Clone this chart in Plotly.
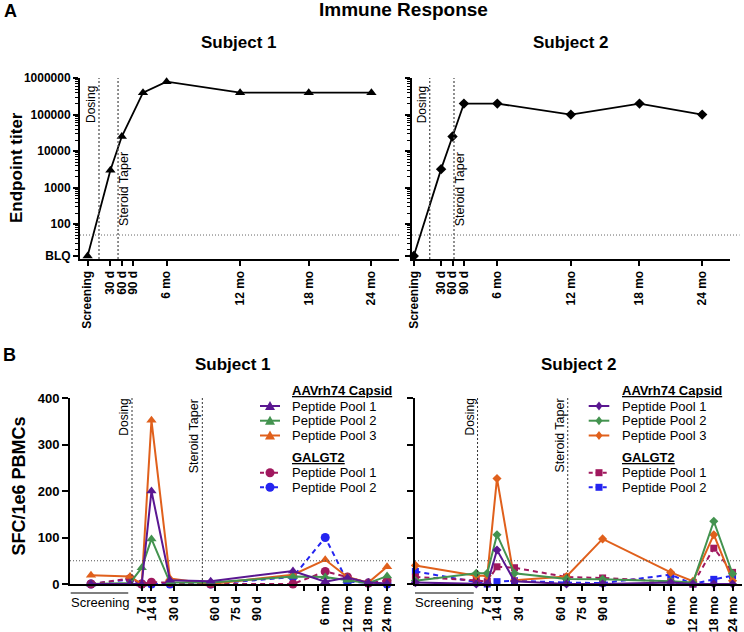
import math
import plotly.graph_objects as go

W, H = 744, 632
FONT = "Liberation Sans, Arial, Helvetica, sans-serif"

# ---------------- Panel A: endpoint titer ----------------
BLQ = 13.3
a_tick_labels = ["Screening", "30 d", "60 d", "90 d", "6 mo", "12 mo", "18 mo", "24 mo"]
a_tick_pos_s1 = [-1.0, 1, 2, 3, 5.93, 12.38, 18.4, 23.9]
a_tick_pos_s2 = [-1.4, 1, 2, 3, 5.93, 12.38, 18.4, 23.9]
a_s1_time = [-1.0, 1, 2, 3.86, 5.93, 12.38, 18.4, 23.9]
a_s1_titer = [BLQ, 3000, 25000, 400000, 800000, 400000, 400000, 400000]
a_s2_time = [-1.4, 1, 2, 3, 5.93, 12.38, 18.4, 23.9]
a_s2_titer = [BLQ, 3200, 25000, 200000, 200000, 100000, 200000, 100000]
a_y_ticks = [BLQ, 100, 1000, 10000, 100000, 1000000]
a_y_labels = ["BLQ", "100", "1000", "10000", "100000", "1000000"]
a_dosing = [0.0, 0.0]
a_taper = [1.67, 2.13]
a_cutoff = 50

# ---------------- Panel B: SFC / 1e6 PBMCs ----------------
b_tick_labels = ["7 d", "14 d", "30 d", "60 d", "75 d", "90 d", "", "", "6 mo", "12 mo", "18 mo", "24 mo"]
b_tick_pos = [7, 14, 30, 60, 75, 90, 124, 134, 139, 155, 170, 183.5]
b_y_ticks = [0, 100, 200, 300, 400]
b_dosing = [0.0, 0.0]
b_taper = [50.6, 64.9]
b_cutoff = 50
b_screen_span_s1 = [-44.1, -2.7]
b_screen_span_s2 = [-45.0, -2.7]

s1_time = [-29.5, -1.4, 7, 14, 27.3, 56.6, 115.8, 139, 155, 170, 183.5]
s1_cap1 = [0, 1, 0, 200, 8, 6, 28, 5, 14, 3, 1]
s1_cap2 = [0, 2, 35, 97, 3, 3, 16, 15, 8, 2, 17]
s1_cap3 = [19, 16, 0, 352, 12, 0, 20, 52, 15, 3, 37]
s1_gal1 = [0, 12, 0, 4, 3, 0, 0, 27, 15, 2, 7]
s1_gal2 = [0, 10, 0, 0, 0, 0, 15, 100, 5, 2, 0]

s2_time = [-44.7, -0.9, 7, 14, 26.6, 64, 90, 139, 155, 170, 183.5]
s2_cap1 = [3, 0, 0, 73, 6, 0, 0, 3, 0, 0, 0]
s2_cap2 = [7, 23, 23, 106, 23, 11, 10, 6, 3, 135, 22]
s2_cap3 = [40, 18, 18, 227, 8, 16, 97, 25, 6, 106, 7]
s2_gal1 = [15, 8, 5, 37, 35, 15, 13, 5, 0, 77, 25]
s2_gal2 = [27, 3, 0, 5, 7, 3, 2, 20, 0, 10, 18]

series_names = ["Peptide Pool 1", "Peptide Pool 2", "Peptide Pool 3", "Peptide Pool 1", "Peptide Pool 2"]
series_colors = ["#5a1791", "#43934f", "#e0601c", "#a0185e", "#2424f0"]
series_dashed = [False, False, False, True, True]
group_titles = ["AAVrh74 Capsid", "GALGT2"]


def px(p):
    return p / W


def py(p):
    return 1 - p / H


fig = go.Figure()

# ---- Panel A traces ----
fig.add_trace(go.Scatter(x=a_s1_time, y=a_s1_titer, xaxis="x", yaxis="y", mode="lines+markers",
                         line=dict(color="black", width=1.8),
                         marker=dict(symbol="triangle-up", size=9, color="black"),
                         cliponaxis=False, showlegend=False))
fig.add_trace(go.Scatter(x=a_s2_time, y=a_s2_titer, xaxis="x2", yaxis="y2", mode="lines+markers",
                         line=dict(color="black", width=1.8),
                         marker=dict(symbol="diamond", size=8, color="black"),
                         cliponaxis=False, showlegend=False))

# ---- Panel B traces ----
s1_vals = [s1_cap1, s1_cap2, s1_cap3, s1_gal1, s1_gal2]
s2_vals = [s2_cap1, s2_cap2, s2_cap3, s2_gal1, s2_gal2]
s1_sym = ["triangle-up"] * 3 + ["circle"] * 2
s2_sym = ["diamond"] * 3 + ["square"] * 2
s1_size = [9, 9, 9, 9, 9]
s2_size = [7, 7, 7, 7, 7]
order = [4, 3, 2, 1, 0]
for i in order:
    dash = "5px,4px" if series_dashed[i] else "solid"
    fig.add_trace(go.Scatter(x=s1_time, y=s1_vals[i], xaxis="x3", yaxis="y3", mode="lines+markers",
                             name=series_names[i],
                             line=dict(color=series_colors[i], width=2, dash=dash),
                             marker=dict(symbol=s1_sym[i], size=s1_size[i], color=series_colors[i]),
                             cliponaxis=False, showlegend=False))
    fig.add_trace(go.Scatter(x=s2_time, y=s2_vals[i], xaxis="x4", yaxis="y4", mode="lines+markers",
                             name=series_names[i],
                             line=dict(color=series_colors[i], width=2, dash=dash),
                             marker=dict(symbol=s2_sym[i], size=s2_size[i], color=series_colors[i]),
                             cliponaxis=False, showlegend=False))

common = dict(showline=True, linecolor="black", linewidth=2, ticks="outside", tickcolor="black",
              tickwidth=1.5, showgrid=False, zeroline=False, automargin=False)
minor_vals = [k * 10 ** n for n in range(1, 6) for k in range(2, 10) if k * 10 ** n > BLQ]
minor_cfg = dict(tickmode="array", tickvals=minor_vals, ticks="outside", ticklen=3, tickwidth=1,
                 tickcolor="black", showgrid=False)
logrange = [math.log10(BLQ) - 0.082, 6.003]

fig.update_layout(
    width=W, height=H, margin=dict(l=0, r=0, t=0, b=0, pad=0, autoexpand=False),
    paper_bgcolor="white", plot_bgcolor="rgba(0,0,0,0)", showlegend=False,
    font=dict(family=FONT, color="black"),
    xaxis=dict(common, domain=[px(80), px(399)], range=[-1.667, 26.32], anchor="y",
               tickmode="array", tickvals=a_tick_pos_s1, ticktext=a_tick_labels, tickangle=-90,
               ticklen=5, tickfont=dict(family=FONT, size=12, weight="bold")),
    yaxis=dict(common, domain=[py(259), py(78)], type="log", range=logrange, anchor="x",
               tickmode="array", tickvals=a_y_ticks, ticktext=a_y_labels, ticklen=5,
               tickfont=dict(family=FONT, size=12, weight="bold"), minor=minor_cfg),
    xaxis2=dict(common, domain=[px(412), px(730)], range=[-1.553, 26.34], anchor="y2",
                tickmode="array", tickvals=a_tick_pos_s2, ticktext=a_tick_labels, tickangle=-90,
                ticklen=5, tickfont=dict(family=FONT, size=12, weight="bold")),
    yaxis2=dict(common, domain=[py(259), py(78)], type="log", range=logrange, anchor="x2",
                tickmode="array", tickvals=a_y_ticks, showticklabels=False, ticklen=5,
                minor=minor_cfg),
    xaxis3=dict(common, domain=[px(70), px(395)], range=[-44.6, 189.2], anchor="y3",
                tickmode="array", tickvals=b_tick_pos, ticktext=b_tick_labels, tickangle=-90,
                ticklen=5, tickfont=dict(family=FONT, size=12.5, weight="bold")),
    yaxis3=dict(common, domain=[py(584), py(398)], range=[0, 400], anchor="x3",
                tickmode="array", tickvals=b_y_ticks, ticklen=6,
                tickfont=dict(family=FONT, size=13, weight="bold")),
    xaxis4=dict(common, domain=[px(415), px(742)], range=[-45.0, 190.3], anchor="y4",
                tickmode="array", tickvals=b_tick_pos, ticktext=b_tick_labels, tickangle=-90,
                ticklen=5, tickfont=dict(family=FONT, size=12.5, weight="bold")),
    yaxis4=dict(common, domain=[py(584), py(398)], range=[0, 400], anchor="x4",
                tickmode="array", tickvals=b_y_ticks, ticklen=6, showticklabels=False),
)

shapes = []
annotations = []


def text(x, y, s, size, bold=False, angle=0, xanchor="center", yanchor="middle", color="black"):
    t = f"<b>{s}</b>" if bold else s
    annotations.append(dict(x=x, y=y, xref="paper", yref="paper", text=t, showarrow=False,
                            textangle=angle, xanchor=xanchor, yanchor=yanchor,
                            font=dict(family=FONT, size=size, color=color)))


# reference lines
for xa, ya, xd in [("x", "y", a_dosing[0]), ("x2", "y2", a_dosing[1])]:
    shapes.append(dict(type="line", xref=xa, yref=ya + " domain", x0=xd, x1=xd, y0=0, y1=1,
                       line=dict(color="#555555", width=1.3, dash="2px,2px")))
for xa, ya, xd in [("x", "y", a_taper[0]), ("x2", "y2", a_taper[1])]:
    shapes.append(dict(type="line", xref=xa, yref=ya + " domain", x0=xd, x1=xd, y0=0, y1=1,
                       line=dict(color="#555555", width=1.3, dash="2px,2px")))
for xa, ya, x1 in [("x", "y", 1.0), ("x2", "y2", 1.03)]:
    shapes.append(dict(type="line", xref=xa + " domain", yref=ya, x0=0, x1=x1, y0=a_cutoff, y1=a_cutoff,
                       line=dict(color="#666666", width=1, dash="1px,2px")))
for xa, ya, xd in [("x3", "y3", b_dosing[0]), ("x4", "y4", b_dosing[1]),
                   ("x3", "y3", b_taper[0]), ("x4", "y4", b_taper[1])]:
    shapes.append(dict(type="line", xref=xa, yref=ya + " domain", x0=xd, x1=xd, y0=0, y1=1,
                       line=dict(color="#333333", width=1, dash="2px,2px")))
for xa, ya in [("x3", "y3"), ("x4", "y4")]:
    shapes.append(dict(type="line", xref=xa + " domain", yref=ya, x0=0, x1=1, y0=b_cutoff, y1=b_cutoff,
                       line=dict(color="#555555", width=1, dash="1px,2px")))
# screening brackets
for xa, span in [("x3", b_screen_span_s1), ("x4", b_screen_span_s2)]:
    shapes.append(dict(type="line", xref=xa, yref="paper", x0=span[0], x1=span[1], y0=py(593), y1=py(593),
                       line=dict(color="black", width=1.2)))
text(px(100), py(602), "Screening", 13)
text(px(444.5), py(602), "Screening", 13)

# vertical labels
text(px(91), py(105), "Dosing", 12, angle=-90)
text(px(124), py(189), "Steroid Taper", 12.5, angle=-90)
text(px(422.3), py(105), "Dosing", 12, angle=-90)
text(px(460.3), py(189), "Steroid Taper", 12.5, angle=-90)
text(px(123.7), py(417), "Dosing", 12, angle=-90)
text(px(194.3), py(436), "Steroid Taper", 12.5, angle=-90)
text(px(469.5), py(417), "Dosing", 12, angle=-90)
text(px(559.5), py(436), "Steroid Taper", 12.5, angle=-90)

# titles
text(px(10), py(11.5), "A", 18, bold=True)
text(px(9), py(355), "B", 18, bold=True)
text(px(403), py(10), "Immune Response", 19, bold=True)
text(px(239), py(42), "Subject 1", 17, bold=True)
text(px(570.5), py(42), "Subject 2", 17, bold=True)
text(px(232.5), py(364), "Subject 1", 17, bold=True)
text(px(578.7), py(364), "Subject 2", 17, bold=True)
text(px(17), py(168), "Endpoint titer", 17, bold=True, angle=-90)
text(px(18), py(486.5), "SFC/1e6 PBMCs", 18, bold=True, angle=-90)


# legends (drawn keys)
def marker_shape(kind, cx, cy, color):
    if kind == "triangle":
        pts = [(cx, cy - 5), (cx - 5, cy + 4), (cx + 5, cy + 4)]
    elif kind == "diamond":
        pts = [(cx, cy - 4.5), (cx + 3.5, cy), (cx, cy + 4.5), (cx - 3.5, cy)]
    elif kind == "square":
        pts = [(cx - 3.5, cy - 3.5), (cx + 3.5, cy - 3.5), (cx + 3.5, cy + 3.5), (cx - 3.5, cy + 3.5)]
    else:
        shapes.append(dict(type="circle", xref="paper", yref="paper", x0=px(cx - 4.5), x1=px(cx + 4.5),
                           y0=py(cy + 4.5), y1=py(cy - 4.5), fillcolor=color, line=dict(width=0)))
        return
    path = "M " + " L ".join(f"{px(a):.5f} {py(b):.5f}" for a, b in pts) + " Z"
    shapes.append(dict(type="path", xref="paper", yref="paper", path=path, fillcolor=color,
                       line=dict(width=0)))


def legend(x0, x1, xt, kinds):
    rows = [406, 420.7, 435.5, 472.7, 487.3]
    text(px(xt), py(390), f"<u>{group_titles[0]}</u>", 13, bold=True, xanchor="left")
    text(px(xt), py(457.5), f"<u>{group_titles[1]}</u>", 13, bold=True, xanchor="left")
    for i, ry in enumerate(rows):
        dash = "4px,3px" if series_dashed[i] else "solid"
        shapes.append(dict(type="line", xref="paper", yref="paper", x0=px(x0), x1=px(x1), y0=py(ry), y1=py(ry),
                           line=dict(color=series_colors[i], width=2, dash=dash)))
        marker_shape(kinds[i], (x0 + x1) / 2, ry, series_colors[i])
        text(px(xt), py(ry), series_names[i], 13, xanchor="left")


legend(260, 280, 290, ["triangle"] * 3 + ["circle"] * 2)
legend(588.7, 609.3, 620, ["diamond"] * 3 + ["square"] * 2)

fig.update_layout(shapes=shapes, annotations=annotations)
fig.write_html("out.html", config={"displayModeBar": False},
               post_script="document.body.style.margin='0';document.body.style.overflow='hidden';")
